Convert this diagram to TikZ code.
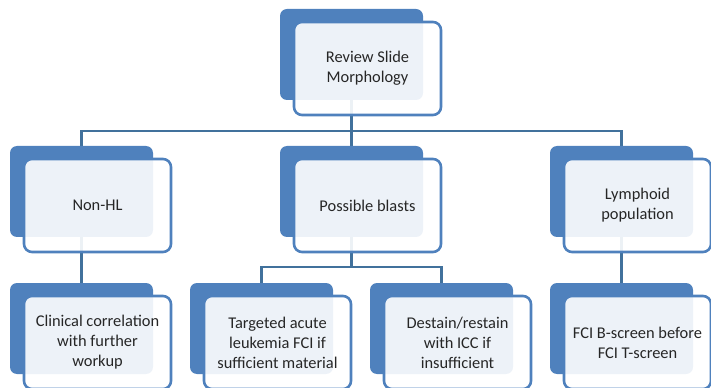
\documentclass[tikz,border=0pt]{standalone}
\usepackage{fontspec}
\setmainfont{Carlito}
\usetikzlibrary{positioning,backgrounds}

\definecolor{artblue}{HTML}{4F81BD}
\definecolor{artline}{HTML}{41719C}
\definecolor{arttext}{HTML}{262626}

\tikzset{
  backcell/.style={
    fill=artblue, draw=none,
    rounded corners=0.21cm,
    minimum width=4.29cm, minimum height=2.73cm,
    inner sep=0pt
  },
  textcell/.style={
    draw=artblue, line width=2.2pt,
    fill=white, fill opacity=0.9, text opacity=1,
    rounded corners=0.24cm,
    minimum width=4.41cm, minimum height=2.79cm,
    align=center, inner sep=2pt, text=arttext,
    font=\fontsize{14}{17}\selectfont
  },
  linkline/.style={
    draw=artline, line width=2.4pt
  },
}

\begin{document}
\begin{tikzpicture}[every node/.style={outer sep=0pt}]

\useasboundingbox (0,0) rectangle (21.33,-11.64);

%% Level 1
\node[backcell, anchor=north west] (review) at (8.40, -0.27) {};
\node[textcell, below right=0.39cm and 0.42cm of review.north west, anchor=north west] (review-t)
  {Review Slide\\Morphology};

%% Level 2
\node[backcell, anchor=north west] (nonhl) at (0.30, -4.38) {};
\node[textcell, below right=0.39cm and 0.42cm of nonhl.north west, anchor=north west] (nonhl-t)
  {Non-HL};

\node[backcell, anchor=north west] (blasts) at (8.40, -4.38) {};
\node[textcell, below right=0.39cm and 0.42cm of blasts.north west, anchor=north west] (blasts-t)
  {Possible blasts};

\node[backcell, anchor=north west] (lymph) at (16.50, -4.38) {};
\node[textcell, below right=0.39cm and 0.42cm of lymph.north west, anchor=north west] (lymph-t)
  {Lymphoid\\population};

%% Level 3
\node[backcell, anchor=north west] (clinical) at (0.30, -8.49) {};
\node[textcell, below right=0.39cm and 0.42cm of clinical.north west, anchor=north west] (clinical-t)
  {Clinical correlation\\with further\\workup};

\node[backcell, anchor=north west] (targeted) at (5.70, -8.49) {};
\node[textcell, below right=0.39cm and 0.42cm of targeted.north west, anchor=north west] (targeted-t)
  {Targeted acute\\leukemia FCI if\\sufficient material};

\node[backcell, anchor=north west] (destain) at (11.10, -8.49) {};
\node[textcell, below right=0.39cm and 0.42cm of destain.north west, anchor=north west] (destain-t)
  {Destain/restain\\with ICC if\\insufficient};

\node[backcell, anchor=north west] (fciscreen) at (16.50, -8.49) {};
\node[textcell, below right=0.39cm and 0.42cm of fciscreen.north west, anchor=north west] (fciscreen-t)
  {FCI B-screen before\\FCI T-screen};

%% Connectors, behind the cells
\begin{scope}[on background layer]
  \draw[linkline] (review.south) -- ++(0,-0.93) -| (nonhl.north);
  \draw[linkline] (review.south) -- ++(0,-0.93) -| (lymph.north);
  \draw[linkline] (review.south) -- (blasts.north);
  \draw[linkline] (nonhl.south) -- (clinical.north);
  \draw[linkline] (blasts.south) -- ++(0,-0.90) -| (targeted.north);
  \draw[linkline] (blasts.south) -- ++(0,-0.90) -| (destain.north);
  \draw[linkline] (lymph.south) -- (fciscreen.north);
\end{scope}

\end{tikzpicture}
\end{document}
